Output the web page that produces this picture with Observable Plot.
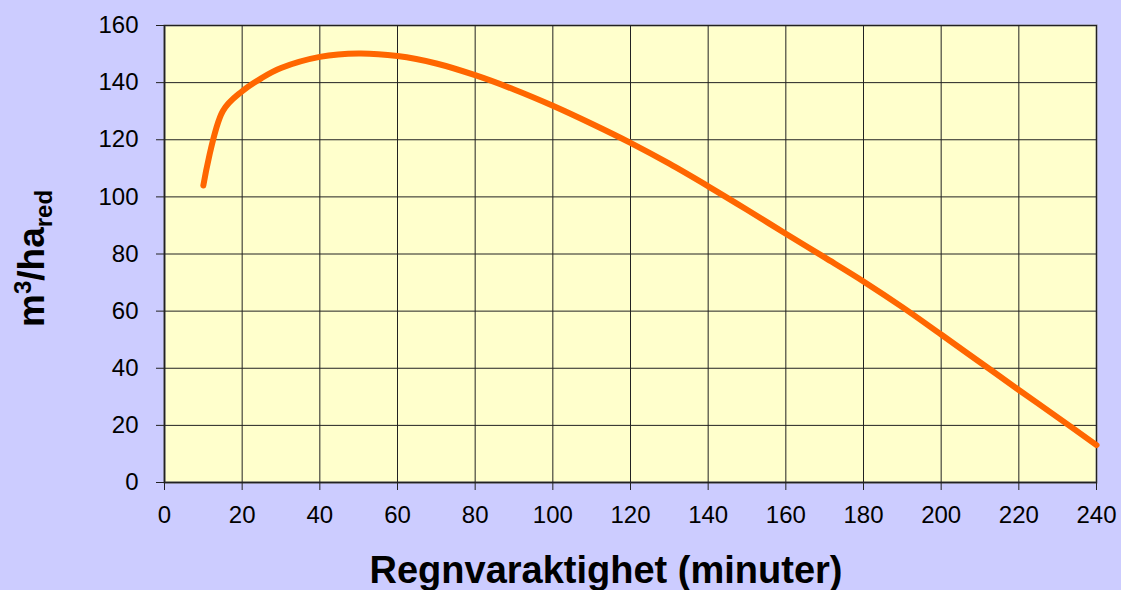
<!DOCTYPE html>
<html>
<head>
<meta charset="utf-8">
<script src="https://cdn.jsdelivr.net/npm/d3@7"></script>
<script src="https://cdn.jsdelivr.net/npm/@observablehq/plot@0.6"></script>
<style>
  html, body { margin: 0; padding: 0; background: #CCCCFF; }
  #chart svg { display: block; }
</style>
</head>
<body>
<div id="chart"></div>
<script>
const durations = [10, 15, 20, 25, 30, 40, 50, 60, 70, 80, 90, 100, 110, 120, 130, 140, 150, 160, 170, 180, 190, 200, 210, 220, 230, 240];
const volumes   = [104, 130, 137, 141.6, 145.1, 149.0, 150.2, 149.3, 146.7, 142.6, 137.6, 131.9, 125.6, 118.9, 111.6, 103.7, 95.5, 87.1, 78.8, 70.4, 61.4, 51.8, 42.1, 32.4, 22.8, 13.1];
const xTicks = [0, 20, 40, 60, 80, 100, 120, 140, 160, 180, 200, 220, 240];
const yTicks = [0, 20, 40, 60, 80, 100, 120, 140, 160];
const xLabel = "Regnvaraktighet (minuter)";
const yLabelMain = ["m", "3", "/ha", "red"];

const data = durations.map((d, i) => ({x: d, y: volumes[i]}));

const W = 1121, H = 590;
const mL = 164, mR = 25, mT = 25, mB = 108;

const chart = Plot.plot({
  width: W,
  height: H,
  marginLeft: mL,
  marginRight: mR,
  marginTop: mT,
  marginBottom: mB,
  style: {background: "#CCCCFF", fontFamily: "'Liberation Sans', Arial, sans-serif", color: "#000", overflow: "visible"},
  x: {domain: [0, 240], ticks: xTicks, label: null},
  y: {domain: [0, 160], ticks: yTicks, label: null},
  marks: [
    Plot.frame({fill: "#FFFFCC", stroke: "#808080", strokeWidth: 2}),
    Plot.gridX(xTicks, {stroke: "#222", strokeOpacity: 1, strokeWidth: 1}),
    Plot.gridY(yTicks, {stroke: "#222", strokeOpacity: 1, strokeWidth: 1}),
    Plot.ruleX([0], {stroke: "#222", strokeWidth: 1.5}),
    Plot.ruleY([0], {stroke: "#222", strokeWidth: 1.5}),
    Plot.axisX(xTicks, {tickSize: 8, tickPadding: 15, fontSize: 24, stroke: "#222", label: null, fill: "#000"}),
    Plot.axisY(yTicks, {tickSize: 8, tickPadding: 18, fontSize: 24, stroke: "#222", label: null, fill: "#000"}),
    Plot.line(data, {x: "x", y: "y", stroke: "#FF6600", strokeWidth: 6, curve: "catmull-rom", strokeLinecap: "round", strokeLinejoin: "round"})
  ]
});

const svg = d3.select(chart);
// x axis title
svg.append("text")
  .attr("x", 606)
  .attr("y", 583)
  .attr("text-anchor", "middle")
  .attr("font-family", "'Liberation Sans', Arial, sans-serif")
  .attr("font-weight", "bold")
  .attr("font-size", 38)
  .attr("fill", "#000")
  .text(xLabel);

// y axis title with super/subscript
const yt = svg.append("text")
  .attr("transform", "translate(44,327) rotate(-90)")
  .attr("text-anchor", "start")
  .attr("font-family", "'Liberation Sans', Arial, sans-serif")
  .attr("font-weight", "bold")
  .attr("font-size", 37)
  .attr("fill", "#000");
yt.append("tspan").text(yLabelMain[0]);
yt.append("tspan").attr("font-size", 24).attr("dy", -13).text(yLabelMain[1]);
yt.append("tspan").attr("dy", 13).text(yLabelMain[2]);
yt.append("tspan").attr("font-size", 24).attr("dy", 8).text(yLabelMain[3]);

document.getElementById("chart").appendChild(chart);
</script>
</body>
</html>
